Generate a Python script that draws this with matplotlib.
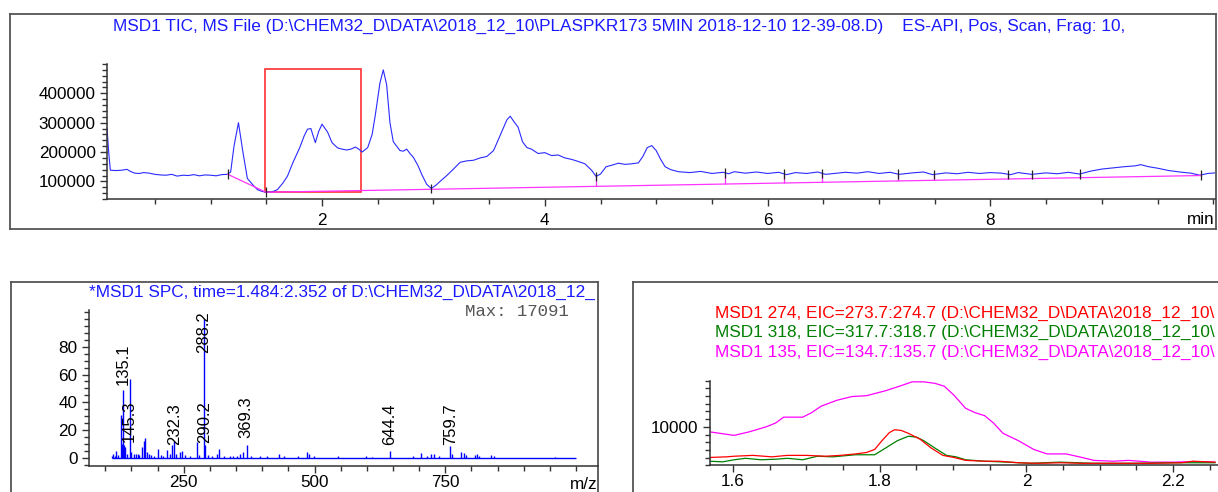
import matplotlib
matplotlib.use('Agg')
import matplotlib.pyplot as plt
from matplotlib.patches import Rectangle
from matplotlib.ticker import MultipleLocator, FixedLocator
import numpy as np

plt.rcParams['font.family'] = ['Liberation Sans', 'DejaVu Sans']

# ---- TIC trace (min, counts) ----
tic_time = [0.07, 0.085, 0.10, 0.15, 0.20, 0.25, 0.28, 0.32, 0.36, 0.40, 0.45, 0.50, 0.55, 0.60,
            0.65, 0.70, 0.75, 0.80, 0.85, 0.90, 0.95, 1.00, 1.05, 1.10, 1.15, 1.18, 1.21, 1.25,
            1.29, 1.33, 1.38, 1.42, 1.46, 1.50, 1.55, 1.60, 1.65, 1.69, 1.74, 1.80, 1.84, 1.87,
            1.90, 1.94, 1.97, 2.00, 2.05, 2.09, 2.14, 2.18, 2.22, 2.26, 2.30, 2.33, 2.36, 2.41,
            2.45, 2.48, 2.52, 2.55, 2.58, 2.61, 2.64, 2.67, 2.70, 2.73, 2.76, 2.79, 2.82, 2.86,
            2.90, 2.94, 2.98, 3.02, 3.06, 3.12, 3.18, 3.24, 3.30, 3.36, 3.42, 3.48, 3.54, 3.58,
            3.62, 3.66, 3.69, 3.72, 3.76, 3.80, 3.84, 3.88, 3.94, 4.00, 4.06, 4.12, 4.18, 4.24,
            4.30, 4.36, 4.42, 4.46, 4.50, 4.55, 4.60, 4.66, 4.72, 4.78, 4.84, 4.88, 4.92, 4.96,
            5.00, 5.04, 5.08, 5.13, 5.20, 5.30, 5.40, 5.50, 5.60, 5.65, 5.70, 5.80, 5.90, 6.00,
            6.10, 6.17, 6.25, 6.35, 6.45, 6.52, 6.60, 6.70, 6.80, 6.90, 7.00, 7.10, 7.18, 7.30,
            7.40, 7.48, 7.60, 7.70, 7.80, 7.90, 8.00, 8.10, 8.18, 8.25, 8.37, 8.50, 8.60, 8.70,
            8.80, 8.90, 9.00, 9.10, 9.20, 9.30, 9.35, 9.42, 9.50, 9.60, 9.70, 9.80, 9.88, 9.95,
            10.02]
tic_value = [282000, 200000, 138000, 137000, 138000, 141000, 134000, 128000, 127000, 130000,
             128000, 124000, 122000, 121000, 124000, 118000, 121000, 120000, 123000, 119000,
             122000, 121000, 119000, 123000, 124000, 132000, 220000, 300000, 200000, 110000,
             88000, 72000, 66000, 63000, 64000, 72000, 95000, 118000, 165000, 215000, 255000,
             278000, 280000, 232000, 270000, 295000, 268000, 232000, 214000, 210000, 207000,
             210000, 217000, 210000, 200000, 215000, 260000, 330000, 435000, 480000, 430000,
             300000, 235000, 220000, 205000, 203000, 210000, 195000, 182000, 155000, 120000,
             90000, 76000, 86000, 100000, 120000, 142000, 165000, 170000, 172000, 180000,
             185000, 205000, 240000, 275000, 310000, 322000, 305000, 285000, 235000, 215000,
             210000, 195000, 198000, 188000, 190000, 180000, 175000, 168000, 160000, 138000,
             117000, 125000, 150000, 155000, 162000, 158000, 160000, 163000, 185000, 215000,
             222000, 205000, 175000, 150000, 140000, 133000, 130000, 134000, 127000, 131000,
             126000, 133000, 128000, 132000, 127000, 131000, 123000, 130000, 127000, 132000,
             124000, 127000, 131000, 128000, 133000, 127000, 131000, 124000, 129000, 132000,
             123000, 129000, 126000, 131000, 127000, 130000, 128000, 123000, 130000, 124000,
             129000, 126000, 131000, 125000, 135000, 142000, 146000, 150000, 153000, 157000,
             150000, 145000, 137000, 132000, 128000, 121000, 127000, 129000]

# integration baseline and peak start/end marks
base_time = [1.155, 1.497, 9.89]
base_value = [124000, 63000, 120000]
mark_time = [1.155, 1.497, 2.98, 4.46, 5.62, 6.15, 6.49, 7.17, 7.49, 8.16, 8.37, 8.80, 9.89]
spc_window = [1.484, 2.352]
spc_window_counts = [64000, 484000]

# ---- averaged spectrum (m/z, % of max) ----
spec_mz = [112, 115, 118, 121, 124, 130, 132, 134.5, 136, 138, 141, 147, 150, 155, 159, 162,
           165, 171, 174, 176, 179, 183, 188, 193, 200, 206, 211, 218, 224, 228, 232.3, 236,
           242, 246, 252, 262, 274.7, 280, 288.2, 290.2, 296, 304, 313, 318, 327, 338, 345,
           352, 358, 364, 370, 378, 395, 410, 432, 442, 468, 486, 490, 499, 545, 598, 610,
           645, 688, 704, 716, 722, 728, 738, 759.7, 763, 781, 786, 790, 807, 811, 815, 838,
           843, 959]
spec_int = [1.5, 2.5, 1.5, 4.5, 2.0, 31, 10, 49, 9, 8, 2.5, 57, 4, 3, 3, 3,
            2, 8, 12, 14, 4, 3, 2, 1.5, 6.5, 2, 1.5, 5.5, 3, 9, 12, 3,
            4, 4.5, 2, 1.5, 11, 2, 100, 9, 2, 1.5, 2.5, 6.5, 1.5, 1.5, 1.5,
            1.5, 2.5, 4, 9, 1.5, 1, 1, 2.5, 1, 1, 4, 2.5, 1.5, 1, 1, 0.8,
            5, 1.5, 3.5, 1.5, 2.5, 2.5, 1.5, 8.5, 3, 4, 3.5, 2, 2, 2.5, 1.5, 2,
            1, 0.8]
scan_range = [112, 1000]
label_mz = [135.1, 145.3, 232.3, 288.2, 290.2, 369.3, 644.4, 759.7]
label_base = [52.5, 11.6, 9, 75.6, 10.6, 14, 9, 9]
spec_max = 17091

# ---- extracted ion chromatograms (min, counts) ----
eic135_t = [1.568, 1.6015, 1.622, 1.645, 1.658, 1.669, 1.695, 1.707, 1.720, 1.741, 1.762,
            1.782, 1.808, 1.829, 1.844, 1.860, 1.875, 1.888, 1.901, 1.917, 1.930, 1.943,
            1.955, 1.968, 1.989, 2.010, 2.028, 2.054, 2.072, 2.092, 2.118, 2.139, 2.170,
            2.201, 2.227, 2.257]
eic135_v = [9350, 8890, 9350, 10000, 10500, 11260, 11260, 11840, 12680, 13440, 13940,
            14050, 14700, 15350, 15850, 15850, 15660, 15280, 14130, 12410, 11840, 11450,
            10500, 9160, 8200, 7060, 6480, 6480, 6100, 5640, 5530, 5640, 5410,
            5410, 5490, 5410]
eic274_t = [1.568, 1.591, 1.6015, 1.627, 1.653, 1.674, 1.700, 1.726, 1.746, 1.767, 1.782,
            1.793, 1.803, 1.813, 1.820, 1.829, 1.839, 1.855, 1.870, 1.886, 1.901, 1.917,
            1.943, 1.963, 1.989, 2.015, 2.046, 2.077, 2.118, 2.170, 2.211, 2.227, 2.257]
eic274_v = [6020, 6100, 6180, 6290, 6100, 6290, 6290, 6180, 6290, 6480, 6670,
            7060, 8200, 9240, 9620, 9540, 9160, 8390, 7250, 6290, 6020, 5640,
            5530, 5530, 5330, 5260, 5330, 5260, 5260, 5260, 5330, 5530, 5410]
eic318_t = [1.568, 1.586, 1.6015, 1.617, 1.638, 1.658, 1.674, 1.695, 1.715, 1.736, 1.767,
            1.793, 1.808, 1.824, 1.839, 1.850, 1.860, 1.875, 1.891, 1.904, 1.917, 1.943,
            1.974, 2.005, 2.046, 2.092, 2.144, 2.196, 2.257]
eic318_v = [5530, 5450, 5720, 5910, 5720, 5790, 5910, 5720, 6180, 6100, 6370,
            6370, 7250, 8200, 8780, 8660, 8200, 7250, 6290, 6100, 5720, 5530,
            5410, 5260, 5410, 5260, 5260, 5330, 5330]

title_tic = ('MSD1 TIC, MS File (D:\\CHEM32_D\\DATA\\2018_12_10\\PLASPKR173 5MIN '
             '2018-12-10 12-39-08.D)    ES-API, Pos, Scan, Frag: 10,')
title_spc = '*MSD1 SPC, time=1.484:2.352 of D:\\CHEM32_D\\DATA\\2018_12_'
eic_labels = ['MSD1 274, EIC=273.7:274.7 (D:\\CHEM32_D\\DATA\\2018_12_10\\',
              'MSD1 318, EIC=317.7:318.7 (D:\\CHEM32_D\\DATA\\2018_12_10\\',
              'MSD1 135, EIC=134.7:135.7 (D:\\CHEM32_D\\DATA\\2018_12_10\\']
eic_colors = ['#ff0000', '#008000', '#ff00ff']

W, H = 1218.0, 492.0
fig = plt.figure(figsize=(W / 100, H / 100), dpi=100)
TXT = 12.4


def box(x0, y0, x1, y1):
    # pixel box (top-left origin) -> figure fraction rect
    return [x0 / W, 1 - y1 / H, (x1 - x0) / W, (y1 - y0) / H]


def frame(x0, y0, x1, y1):
    f = fig.add_axes(box(x0, y0, x1, y1))
    f.set_xticks([])
    f.set_yticks([])
    for s in f.spines.values():
        s.set_color('#555555')
        s.set_linewidth(1.3)
    return f


def style(ax):
    ax.set_facecolor('none')
    ax.spines['top'].set_visible(False)
    ax.spines['right'].set_visible(False)
    for s in ('left', 'bottom'):
        ax.spines[s].set_linewidth(1.1)
        ax.spines[s].set_color('#333333')
    ax.tick_params(which='major', length=5, width=1, labelsize=12.3, pad=3, color='#333333')
    ax.tick_params(which='minor', length=3.5, width=1, color='#333333')


blue = '#1a1aff'

# ---------------- top: TIC ----------------
f1 = frame(10, 14, 1216, 229)
f1.text((113 - 10) / 1206, 1 - 12 / 215, title_tic, color=blue, fontsize=TXT, va='center',
        transform=f1.transAxes)

ax1 = fig.add_axes(box(107, 64, 1215, 199))
style(ax1)
ax1.plot(tic_time, tic_value, color='#2b2bff', lw=0.8)
ax1.plot(base_time, base_value, color='#ff33ff', lw=0.9)
curve_at = np.interp(mark_time, tic_time, tic_value)
base_at = np.interp(mark_time, base_time, base_value)
ax1.vlines(mark_time[3:], base_at[3:], curve_at[3:], color='#ff33ff', lw=0.9)
ax1.vlines(mark_time, curve_at - 16000, curve_at + 16000, color='#222222', lw=0.9)
ax1.add_patch(Rectangle((spc_window[0], spc_window_counts[0]),
                        spc_window[1] - spc_window[0],
                        spc_window_counts[1] - spc_window_counts[0],
                        fill=False, edgecolor='#ff3030', lw=1.2))
ax1.set_xlim(0.07, 10.016)
ax1.set_ylim(40000, 500000)
ax1.xaxis.set_major_locator(FixedLocator([2, 4, 6, 8]))
ax1.xaxis.set_minor_locator(MultipleLocator(0.5))
ax1.yaxis.set_major_locator(FixedLocator([100000, 200000, 300000, 400000]))
ax1.yaxis.set_minor_locator(MultipleLocator(20000))
ax1.tick_params(axis='x', pad=5)
ax1.text(1.0, -0.155, 'min', transform=ax1.transAxes, ha='right', va='center', fontsize=12.3)

# ---------------- bottom left: spectrum ----------------
f2 = frame(11, 282, 598, 520)
f2.text((89 - 11) / 587, 1 - 10 / 238, title_spc, color=blue, fontsize=12.4,
        va='center', transform=f2.transAxes)
f2.text((465 - 11) / 587, 1 - 30 / 238, 'Max: %d' % spec_max, color='#555555',
        fontsize=12.5, family=['Liberation Mono', 'DejaVu Sans Mono'], va='center',
        transform=f2.transAxes)

ax2 = fig.add_axes(box(88.7, 310, 598, 466))
style(ax2)
ax2.hlines(0, scan_range[0], scan_range[1], color='#0000ff', lw=1)
ax2.vlines(spec_mz, 0, spec_int, color='#0000ff', lw=1)
for mz, yb in zip(label_mz, label_base):
    ax2.text(mz, yb, '%.1f' % mz, rotation=90, ha='center', va='bottom', fontsize=12,
             color='black')
ax2.set_xlim(68.3, 1042)
ax2.set_ylim(-6, 106.6)
ax2.xaxis.set_major_locator(FixedLocator([250, 500, 750]))
ax2.xaxis.set_minor_locator(MultipleLocator(50))
ax2.yaxis.set_major_locator(FixedLocator([0, 20, 40, 60, 80]))
ax2.yaxis.set_minor_locator(MultipleLocator(5))
ax2.tick_params(axis='x', pad=1.5)
ax2.text(1.0, -0.12, 'm/z', transform=ax2.transAxes, ha='right', va='center',
         fontsize=12.3)

# ---------------- bottom right: EICs ----------------
f3 = frame(633, 282, 1240, 520)
for i, (lab, c) in enumerate(zip(eic_labels, eic_colors)):
    f3.text((714.6 - 633) / 607, 1 - (31 + 19.5 * i) / 238, lab, color=c, fontsize=TXT,
            va='center', transform=f3.transAxes)

ax3 = fig.add_axes(box(709.6, 380.7, 1230, 465.3))
style(ax3)
ax3.plot(eic135_t, eic135_v, color='#ff00ff', lw=0.9)
ax3.plot(eic318_t, eic318_v, color='#008000', lw=0.9)
ax3.plot(eic274_t, eic274_v, color='#ff0000', lw=0.9)
ax3.set_xlim(1.568, 1.568 + (1230 - 709.6) / 733.5)
ax3.set_ylim(5000, 16000)
ax3.xaxis.set_major_locator(FixedLocator([1.6, 1.8, 2.0, 2.2]))
ax3.xaxis.set_major_formatter(plt.FuncFormatter(lambda v, p: ('%.1f' % v).rstrip('0').rstrip('.')))
ax3.xaxis.set_minor_locator(MultipleLocator(0.05))
ax3.yaxis.set_major_locator(FixedLocator([10000]))
ax3.yaxis.set_minor_locator(MultipleLocator(1000))
ax3.tick_params(axis='x', pad=1.5)

fig.savefig('out.png', dpi=100)
